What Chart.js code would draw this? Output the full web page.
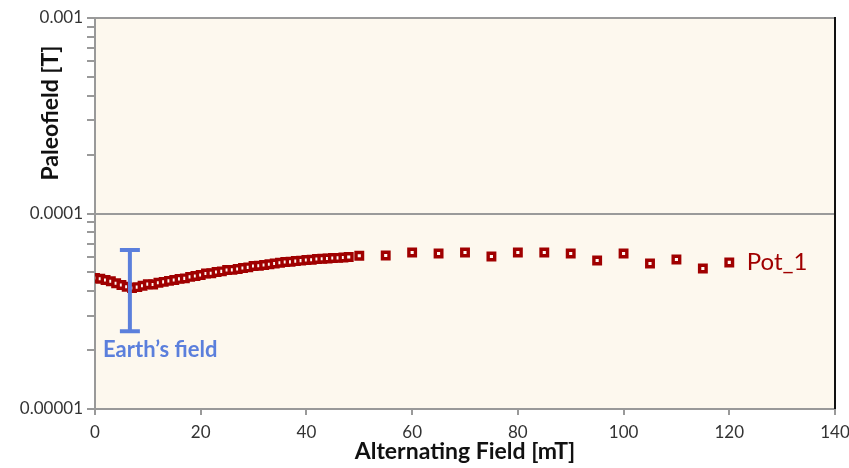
<!DOCTYPE html>
<html>
<head>
<meta charset="utf-8">
<script src="https://cdn.jsdelivr.net/npm/chart.js@4.4.1/dist/chart.umd.min.js"></script>
<style>
  html, body { margin: 0; padding: 0; background: #ffffff; }
  #wrap { width: 849px; height: 468px; }
</style>
</head>
<body>
<div id="wrap"><canvas id="js--chart-paleo" width="849" height="468"></canvas></div>
<script>
// AF step [mT]
const afField = [
    0, 1, 2, 3, 4, 5, 6, 7, 8, 9,
    10, 11, 12, 13, 14, 15, 16, 17, 18, 19,
    20, 21, 22, 23, 24, 25, 26, 27, 28, 29,
    30, 31, 32, 33, 34, 35, 36, 37, 38, 39,
    40, 41, 42, 43, 44, 45, 46, 47, 48,
    50, 55, 60, 65, 70, 75, 80, 85, 90, 95, 100, 105, 110, 115, 120
];
// paleofield estimate [T]
const paleofield = [
    4.68e-5, 4.64e-5, 4.57e-5, 4.50e-5, 4.40e-5, 4.31e-5, 4.22e-5, 4.16e-5, 4.20e-5, 4.27e-5,
    4.35e-5, 4.33e-5, 4.42e-5, 4.47e-5, 4.52e-5, 4.57e-5, 4.63e-5, 4.66e-5, 4.74e-5, 4.79e-5,
    4.85e-5, 4.93e-5, 4.95e-5, 5.02e-5, 5.06e-5, 5.14e-5, 5.15e-5, 5.20e-5, 5.26e-5, 5.30e-5,
    5.39e-5, 5.40e-5, 5.45e-5, 5.50e-5, 5.55e-5, 5.60e-5, 5.65e-5, 5.66e-5, 5.71e-5, 5.74e-5,
    5.78e-5, 5.80e-5, 5.85e-5, 5.87e-5, 5.89e-5, 5.92e-5, 5.93e-5, 5.96e-5, 5.99e-5,
    6.08e-5, 6.10e-5, 6.32e-5, 6.24e-5, 6.32e-5, 6.03e-5, 6.32e-5, 6.32e-5, 6.24e-5, 5.75e-5,
    6.24e-5, 5.55e-5, 5.82e-5, 5.23e-5, 5.62e-5
];

const seriesName = "Pot_1";

// Earth's field range [T] and where the bar sits [mT]
const earthFieldRange = [2.5e-5, 6.5e-5];
const earthFieldAt = 6.6;
const earthFieldLabel = "Earth\u2019s field";

const xTicks = [0, 20, 40, 60, 80, 100, 120, 140];
const yMajorTicks = [1e-5, 1e-4, 1e-3];
const yMajorLabels = ["0.00001", "0.0001", "0.001"];
const yMinorTicks = [
    2e-5, 3e-5, 4e-5, 5e-5, 6e-5, 7e-5, 8e-5, 9e-5,
    2e-4, 3e-4, 4e-4, 5e-4, 6e-4, 7e-4, 8e-4, 9e-4
];

const FONT = "Lato, 'Noto Sans', sans-serif";
const seriesColor = "#a00000";
const earthColor = "#5b7fdc";

function sameValue(a, b) {
    return Math.abs(a - b) < b * 1e-6;
}

const points = afField.map((x, i) => ({ x: x, y: paleofield[i] }));

const framePlugin = {
    id: "frame",
    beforeDraw(chart) {
        const { ctx, chartArea: a } = chart;
        ctx.save();
        ctx.fillStyle = "#fdf8ee";
        ctx.fillRect(a.left, a.top, a.right - a.left, a.bottom - a.top);
        ctx.restore();
    },
    afterDraw(chart) {
        const { ctx, chartArea: a, scales } = chart;
        ctx.save();
        // top border
        ctx.strokeStyle = "#9a9a9a";
        ctx.lineWidth = 2;
        ctx.beginPath();
        ctx.moveTo(a.left, a.top);
        ctx.lineTo(a.right, a.top);
        ctx.stroke();
        // right border
        ctx.strokeStyle = "#111111";
        ctx.lineWidth = 2;
        ctx.beginPath();
        ctx.moveTo(a.right, a.top - 1);
        ctx.lineTo(a.right, a.bottom);
        ctx.stroke();

        // Earth's field bar
        const xs = scales.x, ys = scales.y;
        const bx = xs.getPixelForValue(earthFieldAt);
        const yTop = ys.getPixelForValue(earthFieldRange[1]);
        const yBot = ys.getPixelForValue(earthFieldRange[0]);
        ctx.strokeStyle = earthColor;
        ctx.lineWidth = 4;
        ctx.beginPath();
        ctx.moveTo(bx, yTop);
        ctx.lineTo(bx, yBot);
        ctx.moveTo(bx - 10, yTop);
        ctx.lineTo(bx + 10, yTop);
        ctx.moveTo(bx - 10, yBot);
        ctx.lineTo(bx + 10, yBot);
        ctx.stroke();
        ctx.fillStyle = earthColor;
        ctx.font = "bold 22px " + FONT;
        ctx.textAlign = "left";
        ctx.textBaseline = "middle";
        ctx.fillText(earthFieldLabel, a.left + 8, yBot + 19);

        // series name next to the last point
        const last = paleofield[paleofield.length - 1];
        ctx.fillStyle = seriesColor;
        ctx.font = "24px " + FONT;
        ctx.fillText(seriesName, xs.getPixelForValue(123.3), ys.getPixelForValue(last));

        // y axis title
        ctx.fillStyle = "#111111";
        ctx.font = "bold 23px " + FONT;
        ctx.textAlign = "center";
        ctx.translate(51, 113);
        ctx.rotate(-Math.PI / 2);
        ctx.fillText("Paleofield [T]", 0, 0);
        ctx.restore();
    }
};

new Chart(document.getElementById("js--chart-paleo").getContext("2d"), {
    type: "scatter",
    data: {
        datasets: [{
            label: seriesName,
            data: points,
            showLine: false,
            pointStyle: "rect",
            pointRadius: 4.6,
            pointHoverRadius: 4.6,
            pointBorderWidth: 3.4,
            borderColor: seriesColor,
            backgroundColor: "#fffaf4"
        }]
    },
    options: {
        responsive: false,
        animation: false,
        layout: { autoPadding: false, padding: { top: 18, right: 14, left: 0, bottom: 0 } },
        plugins: {
            legend: { display: false },
            tooltip: { enabled: false }
        },
        scales: {
            x: {
                type: "linear",
                min: 0,
                max: 140,
                afterBuildTicks: axis => { axis.ticks = xTicks.map(v => ({ value: v })); },
                afterFit: axis => {
                    axis.height = 59;
                    axis.paddingLeft = 0;
                    axis.paddingRight = 0;
                },
                border: { color: "#999999", width: 2 },
                grid: { drawOnChartArea: false, drawTicks: true, tickLength: 6, color: "#999999", lineWidth: 2 },
                ticks: {
                    autoSkip: false,
                    maxRotation: 0,
                    padding: 7,
                    color: "#333333",
                    font: { family: FONT, size: 17 }
                },
                title: {
                    display: true,
                    text: "Alternating Field [mT]",
                    color: "#111111",
                    font: { family: FONT, size: 23, weight: "bold" },
                    padding: { top: 0, bottom: 3 }
                }
            },
            y: {
                type: "logarithmic",
                min: 1e-5,
                max: 1e-3,
                afterBuildTicks: axis => {
                    axis.ticks = yMajorTicks.concat(yMinorTicks)
                        .sort((a, b) => a - b)
                        .map(v => ({ value: v }));
                },
                afterFit: axis => {
                    axis.width = 95;
                    axis.paddingTop = 0;
                    axis.paddingBottom = 0;
                },
                border: { color: "#999999", width: 2 },
                grid: {
                    drawTicks: true,
                    tickLength: 8,
                    tickColor: "#999999",
                    lineWidth: 2,
                    color: ctx => (ctx.tick && sameValue(ctx.tick.value, 1e-4)) ? "#9a9a9a" : "rgba(0,0,0,0)"
                },
                ticks: {
                    autoSkip: false,
                    padding: 4,
                    color: "#333333",
                    font: { family: FONT, size: 17 },
                    callback: value => {
                        const i = yMajorTicks.findIndex(m => sameValue(value, m));
                        return i >= 0 ? yMajorLabels[i] : "";
                    }
                }
            }
        }
    },
    plugins: [framePlugin]
});
</script>
</body>
</html>
